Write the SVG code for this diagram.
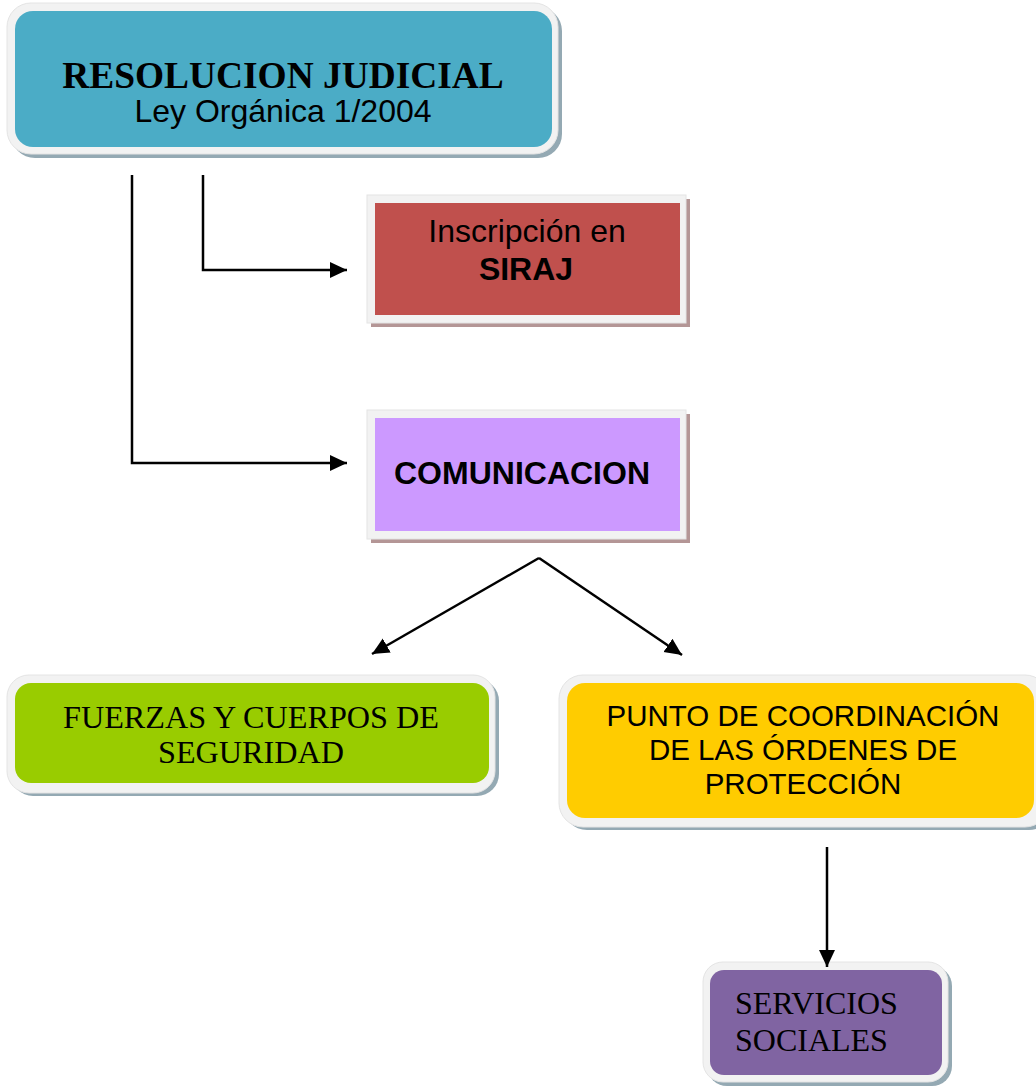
<svg xmlns="http://www.w3.org/2000/svg" width="1036" height="1086" viewBox="0 0 1036 1086">
<defs>
<marker id="ah" markerUnits="userSpaceOnUse" markerWidth="18" markerHeight="18" viewBox="0 0 18 18" refX="17" refY="9" orient="auto">
<path d="M0,1 L17,9 L0,17 Z" fill="#000"/>
</marker>
<style>
.frame{fill:#f2f2f2;stroke:#e4e4e4;stroke-width:1}
.shb{fill:#94a9b3}
.shm{fill:#b49696}
.conn{fill:none;stroke:#000;stroke-width:2.5}
.serif{font-family:"Liberation Serif","Times New Roman",serif;fill:#000}
.sans{font-family:"Liberation Sans",Arial,sans-serif;fill:#000}
</style>
</defs>
<rect width="1036" height="1086" fill="#fff"/>

<g id="resolucion">
<rect class="shb" x="11" y="7" width="551" height="151" rx="24"/>
<rect class="frame" x="7" y="3" width="551" height="151" rx="24"/>
<rect x="15" y="11" width="537" height="136" rx="18" fill="#4bacc6"/>
<text class="serif" x="283" y="88" font-size="37.4" font-weight="bold" text-anchor="middle">RESOLUCION JUDICIAL</text>
<text class="sans" x="283" y="122" font-size="32" text-anchor="middle">Ley Orgánica 1/2004</text>
</g>

<g id="siraj">
<rect class="shm" x="371" y="199" width="319" height="128"/>
<rect class="frame" x="367" y="195" width="319" height="128"/>
<rect x="375" y="203" width="305" height="112" fill="#c0504d"/>
<text class="sans" x="527" y="242" font-size="32" text-anchor="middle">Inscripción en</text>
<text class="sans" x="526" y="280" font-size="32" font-weight="bold" text-anchor="middle">SIRAJ</text>
</g>

<g id="comunicacion">
<rect class="shm" x="371" y="414" width="319" height="129"/>
<rect class="frame" x="367" y="410" width="319" height="129"/>
<rect x="375" y="418" width="305" height="113" fill="#cc99ff"/>
<text class="sans" x="522" y="484" font-size="32" font-weight="bold" text-anchor="middle">COMUNICACION</text>
</g>

<g id="fuerzas">
<rect class="shb" x="11" y="679" width="488" height="117" rx="22"/>
<rect class="frame" x="7" y="675" width="488" height="118" rx="22"/>
<rect x="15" y="683" width="474" height="100" rx="16" fill="#99cc00"/>
<text class="serif" x="251" y="728" font-size="32.2" text-anchor="middle">FUERZAS Y CUERPOS DE</text>
<text class="serif" x="251" y="763" font-size="32.2" text-anchor="middle">SEGURIDAD</text>
</g>

<g id="punto">
<rect class="shb" x="563" y="679" width="490" height="151" rx="24"/>
<rect class="frame" x="559" y="675" width="490" height="152" rx="24"/>
<rect x="567" y="683" width="467" height="135" rx="18" fill="#ffcc00"/>
<text class="sans" x="803" y="726" font-size="29.5" text-anchor="middle">PUNTO DE COORDINACIÓN</text>
<text class="sans" x="803" y="760" font-size="29.5" text-anchor="middle">DE LAS ÓRDENES DE</text>
<text class="sans" x="803" y="794" font-size="29.5" text-anchor="middle">PROTECCIÓN</text>
</g>

<g id="servicios">
<rect class="shb" x="707" y="966" width="245" height="120" rx="20"/>
<rect class="frame" x="703" y="962" width="245" height="120" rx="20"/>
<rect x="710" y="970" width="232" height="105" rx="14" fill="#8064a2"/>
<text class="serif" x="735" y="1014" font-size="32">SERVICIOS</text>
<text class="serif" x="735" y="1051" font-size="32">SOCIALES</text>
</g>

<g id="connectors">
<path class="conn" d="M203,175 V270 H347" marker-end="url(#ah)"/>
<path class="conn" d="M132,175 V463 H347" marker-end="url(#ah)"/>
<path class="conn" d="M539,558 L372,654" marker-end="url(#ah)"/>
<path class="conn" d="M539,558 L682,655" marker-end="url(#ah)"/>
<path class="conn" d="M827,847 V967" marker-end="url(#ah)"/>
</g>
</svg>
